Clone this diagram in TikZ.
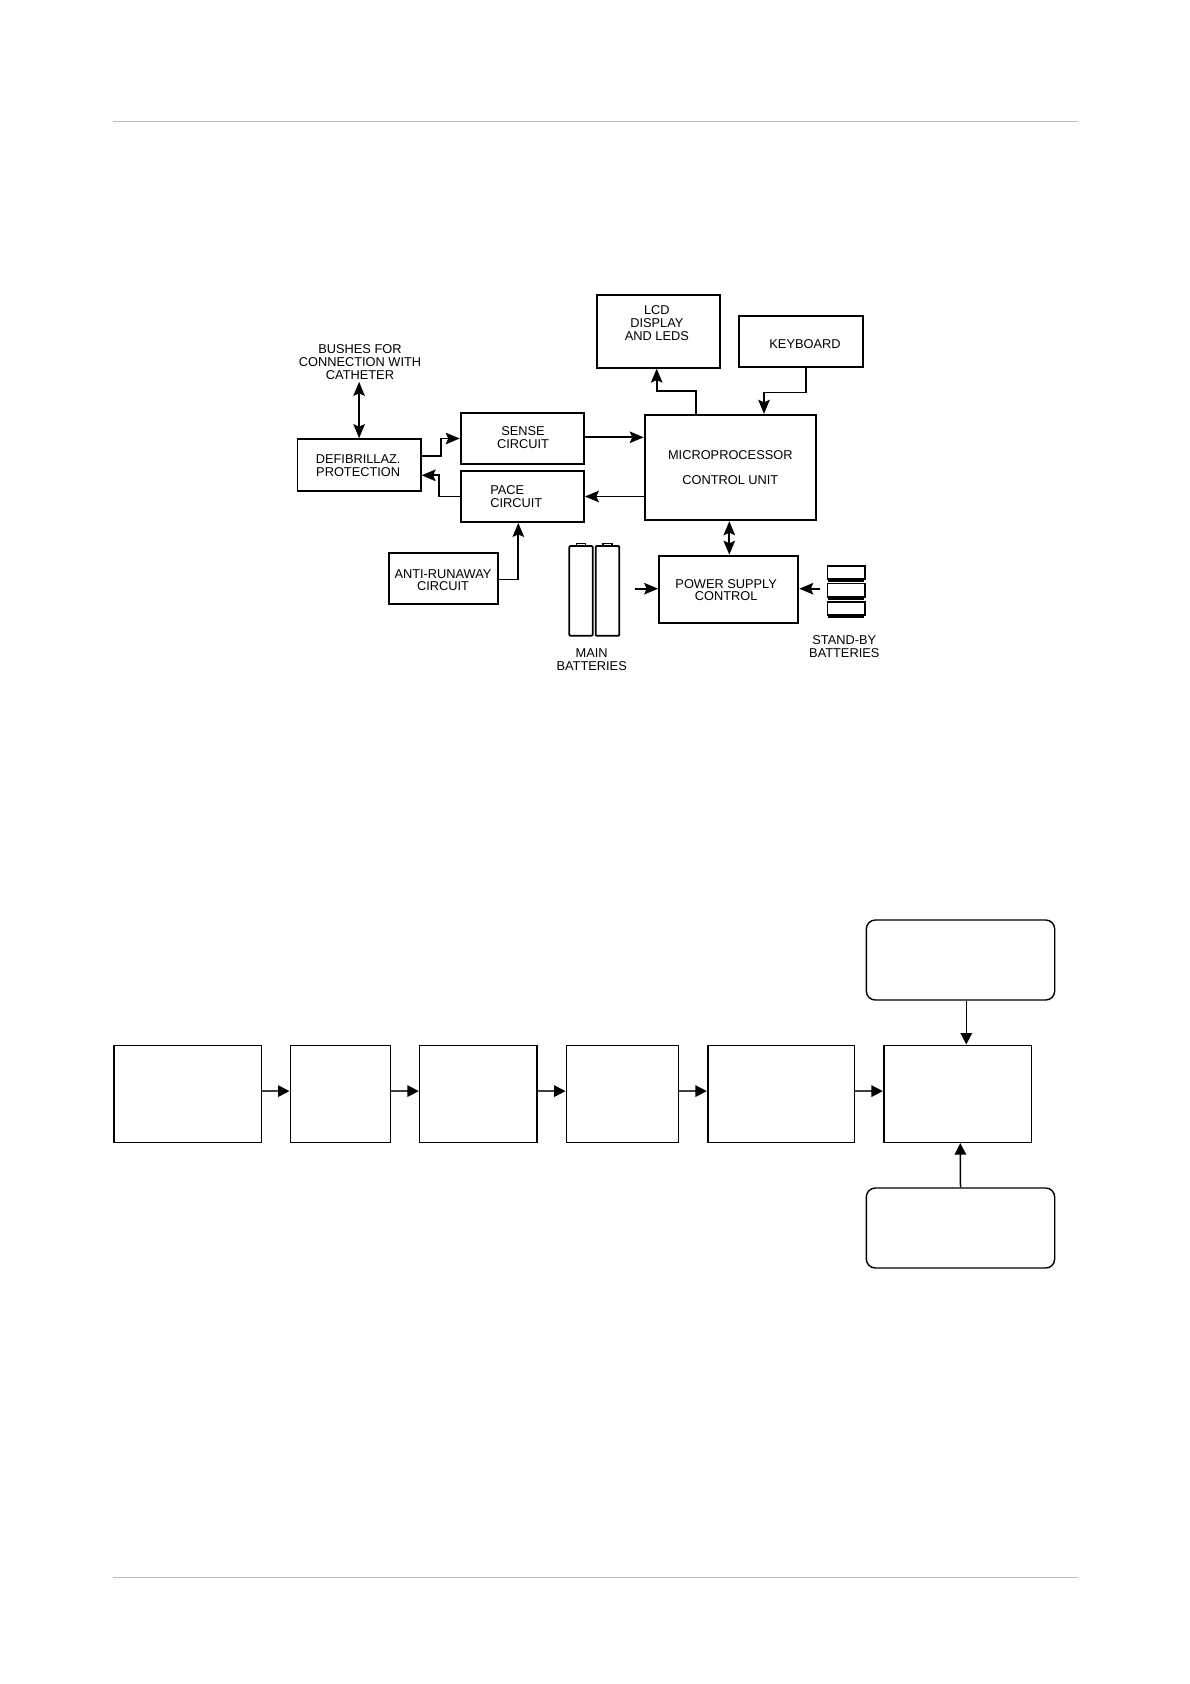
\documentclass[tikz,border=0pt]{standalone}
\usepackage{fontspec}
\setmainfont{Liberation Sans}
\usetikzlibrary{arrows.meta,positioning,shapes,fit}

\begin{document}
\begin{tikzpicture}[x=1pt,y=-1pt]
\useasboundingbox (0,0) rectangle (1190,1684);
\tikzstyle{lbox}=[draw, rectangle, inner sep=0pt, line width=1.8pt, align=center,
  font=\fontsize{12.8}{12.7}\selectfont]
\tikzstyle{ltext}=[inner sep=0pt, align=center, font=\fontsize{12.8}{12.7}\selectfont]
\tikzstyle{rowbox}=[draw, rectangle, inner sep=0pt, line width=1.6pt, minimum height=97pt]
\tikzstyle{rbox}=[draw, rectangle, rounded corners=9pt, inner sep=0pt, line width=1.4pt,
  minimum width=188.4pt, minimum height=80pt]
\tikzstyle{cellbox}=[draw, rectangle, inner sep=0pt, line width=1.6pt,
  minimum width=37.4pt, minimum height=13.4pt]
\tikzstyle{battbox}=[draw, rectangle, inner sep=0pt, line width=1.8pt, rounded corners=1pt]
\tikzstyle{larrow}=[-{Stealth[length=14pt,width=11.5pt,inset=2.5pt]}, line width=1.7pt]
\tikzstyle{darrow}=[{Stealth[length=14pt,width=11.5pt,inset=2.5pt]}-{Stealth[length=14pt,width=11.5pt,inset=2.5pt]}, line width=1.7pt]
\tikzstyle{rarrow}=[-{Triangle[length=11.5pt,width=11.5pt,color=black]}, line width=1.5pt, black!75]
% page rules
\draw[line width=1pt, black!25] (113,121.3) -- (1078,121.3);
\draw[line width=1pt, black!25] (113,1577.3) -- (1078,1577.3);
% upper block diagram
\node[ltext] (bushes) at (360,361.9) {BUSHES FOR\\CONNECTION WITH\\CATHETER};
\node[lbox, minimum width=123.2pt, minimum height=51.7pt] (defib) at (359.1,464.9) {};
\node[ltext] (defibtxt) at (358.2,466) {DEFIBRILLAZ.\\PROTECTION};
\node[lbox, minimum width=123.3pt, minimum height=51pt] (sense) at (522.3,438.5) {};
\node[ltext] (sensetxt) at (523,437.6) {SENSE\\CIRCUIT};
\node[lbox, minimum width=123.3pt, minimum height=51pt] (pace) at (522.3,496.5) {};
\node[ltext, align=left] (pacetxt) at (516.3,496.3) {PACE\\CIRCUIT};
\node[lbox, minimum width=109pt, minimum height=51.3pt] (anti) at (443.5,578.4) {};
\node[ltext] (antitxt) at (443,580.3) {ANTI-RUNAWAY\\CIRCUIT};
\node[lbox, minimum width=123.3pt, minimum height=73pt] (lcd) at (658.3,331.2) {};
\node[ltext] (lcdtxt) at (656.9,323) {LCD\\DISPLAY\\AND LEDS};
\node[lbox, minimum width=123.7pt, minimum height=51pt] (keys) at (800.8,341.2) {};
\node[ltext] (keystxt) at (805,344.2) {KEYBOARD};
\node[lbox, minimum width=171.3pt, minimum height=105.6pt] (mcu) at (730.3,467.5) {MICROPROCESSOR\\[12.9pt]CONTROL UNIT};
\node[lbox, minimum width=139.3pt, minimum height=67.3pt] (psu) at (728.7,589.3) {};
\node[ltext] (psutxt) at (726.2,590) {POWER SUPPLY\\CONTROL};
% batteries
\node[draw, rectangle, inner sep=0pt, line width=1.3pt, minimum width=8.6pt, minimum height=3pt] (capA) at (581,544.8) {};
\node[draw, rectangle, inner sep=0pt, line width=1.3pt, minimum width=9pt, minimum height=3pt] (capB) at (607.5,544.8) {};
\node[battbox, minimum width=23.4pt, minimum height=89.7pt] (mainA) at (581,590.9) {};
\node[battbox, minimum width=23.6pt, minimum height=89.7pt] (mainB) at (607.5,590.9) {};
\node[ltext] (mainlbl) at (591.7,660) {MAIN\\BATTERIES};
\node[cellbox] (cellA) at (846,572.4) {};
\node[cellbox] (cellB) at (846,590) {};
\node[cellbox] (cellC) at (846,608.4) {};
\draw[line width=2.4pt] ([xshift=1.5pt,yshift=-1.3pt]cellA.south west) -- ([xshift=-1.5pt,yshift=-1.3pt]cellA.south east);
\draw[line width=2.4pt] ([xshift=1.5pt,yshift=-1.3pt]cellB.south west) -- ([xshift=-1.5pt,yshift=-1.3pt]cellB.south east);
\draw[line width=2.4pt] ([xshift=1.5pt,yshift=-1.3pt]cellC.south west) -- ([xshift=-1.5pt,yshift=-1.3pt]cellC.south east);
\node[ltext] (standlbl) at (844.3,646.6) {STAND-BY\\BATTERIES};
\coordinate (mainout) at (635,588.7);
\coordinate (cellout) at (820,588.7);
% upper connectors
\draw[darrow] (bushes.south -| defib.north) ++(0,2.5) -- (defib.north);
\draw[larrow] ([yshift=9.2pt]defib.east) -- ++(19.3,0) |- (sense.west);
\draw[larrow] (pace.west) -- ++(-20.7,0) |- ([yshift=-10.4pt]defib.east);
\draw[larrow] ([yshift=30.2pt]mcu.west -| sense.east) -- ([yshift=30.2pt]mcu.west);
\draw[larrow] ([yshift=-29pt]mcu.west) -- ([yshift=-29pt]mcu.west -| pace.east);
\draw[larrow] (anti.east) ++(0,1.1) -| (pace.south -| 518.3,0);
\draw[larrow] ([xshift=-34.3pt]mcu.north) |- ++(-39.3,-22.7) -- ([xshift=-1.6pt]lcd.south);
\draw[larrow] ([xshift=5.2pt]keys.south) |- ++(-42,25) -- ([xshift=33.7pt]mcu.north);
\draw[darrow] ([xshift=-1pt]mcu.south) -- ([xshift=0.6pt]psu.north);
\draw[larrow] (mainout) -- (psu.west |- mainout);
\draw[larrow] (cellout) -- (psu.east |- cellout);
% lower chain
\node[rowbox, minimum width=147.6pt] (chainA) at (187.5,1093.8) {};
\node[rowbox, minimum width=100pt] (chainB) at (340.3,1093.8) {};
\node[rowbox, minimum width=117.3pt] (chainC) at (478.3,1093.8) {};
\node[rowbox, minimum width=112pt] (chainD) at (622.3,1093.8) {};
\node[rowbox, minimum width=146.6pt] (chainE) at (781,1093.8) {};
\node[rowbox, minimum width=147.6pt] (chainF) at (957.5,1093.8) {};
\node[rbox] (upbox) at (960.5,960) {};
\node[rbox] (lowbox) at (960.5,1228) {};
\draw[rarrow] ([yshift=2.7pt]chainA.east) -- ([yshift=2.7pt]chainB.west);
\draw[rarrow] ([yshift=2.7pt]chainB.east) -- ([yshift=2.7pt]chainC.west);
\draw[rarrow] ([yshift=2.7pt]chainC.east) -- ([yshift=2.7pt]chainD.west);
\draw[rarrow] ([yshift=2.7pt]chainD.east) -- ([yshift=2.7pt]chainE.west);
\draw[rarrow] ([yshift=2.7pt]chainE.east) -- ([yshift=2.7pt]chainF.west);
\draw[rarrow, black] ([xshift=5.8pt]upbox.south) -- ([xshift=8.8pt]chainF.north);
\draw[rarrow, black] (lowbox.north) -- ([xshift=2.8pt]chainF.south);
\end{tikzpicture}
\end{document}
